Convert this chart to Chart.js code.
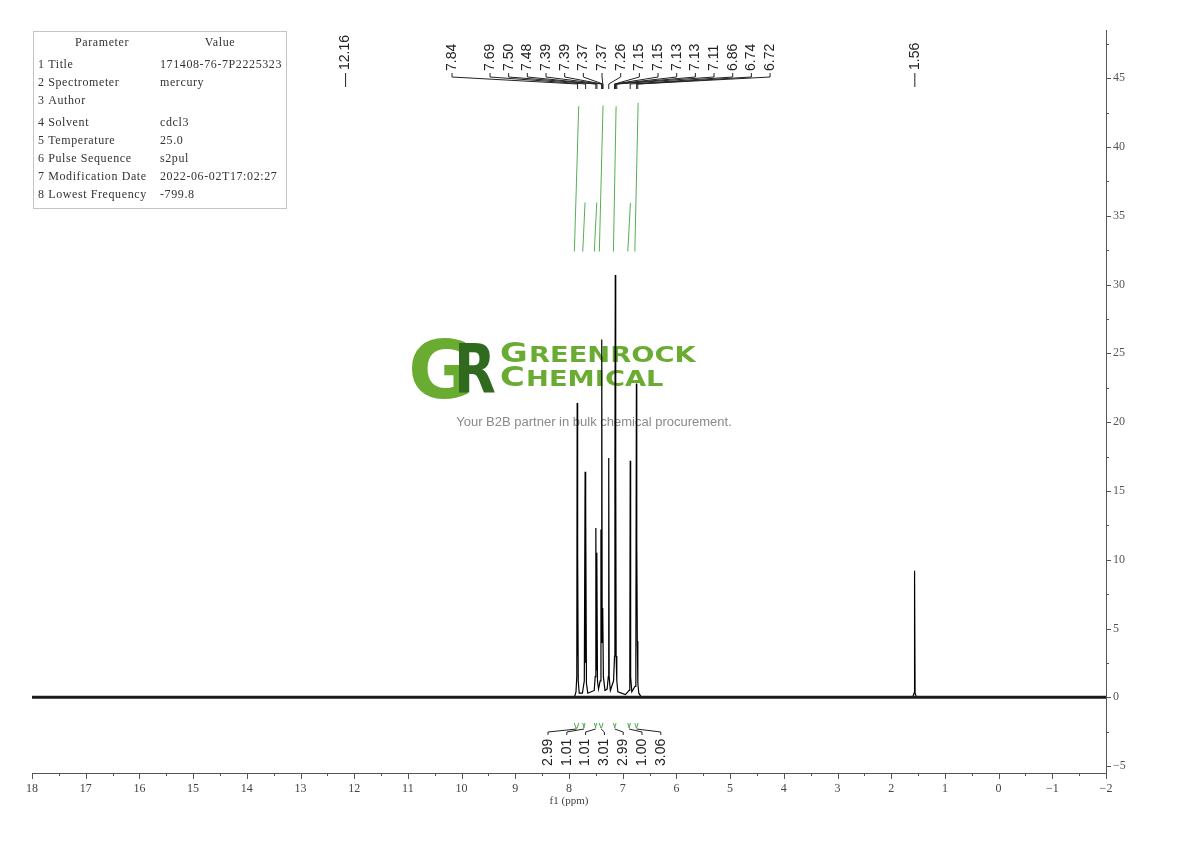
<!DOCTYPE html>
<html>
<head>
<meta charset="utf-8">
<script src="https://cdn.jsdelivr.net/npm/chart.js@4.4.1/dist/chart.umd.min.js"></script>
<style>
  html, body { margin: 0; padding: 0; background: #fff; }
  #wrap { position: relative; width: 1190px; height: 841px; }
</style>
</head>
<body>
<div id="wrap"><canvas id="nmr" width="1190" height="841"></canvas></div>
<script>
// spectrum trace (ppm / intensity)
const specPpm = [18, 7.90, 7.87, 7.855, 7.848, 7.842, 7.836, 7.828, 7.81, 7.75,
  7.715, 7.70, 7.693, 7.686, 7.675, 7.65, 7.53, 7.512, 7.50, 7.492,
  7.482, 7.47, 7.45, 7.42, 7.405, 7.397, 7.39, 7.382, 7.372, 7.36,
  7.33, 7.29, 7.268, 7.26, 7.252, 7.23, 7.17, 7.152, 7.145, 7.138,
  7.13, 7.122, 7.11, 7.09, 6.95, 6.88, 6.868, 6.86, 6.852, 6.83,
  6.77, 6.755, 6.745, 6.738, 6.728, 6.718, 6.70, 6.65,
  1.60, 1.575, 1.565, 1.555, 1.53, -2];
const specInt = [0, 0, 0.4, 1.5, 21.4, 3.0, 10.6, 1.2, 0.3, 0.3,
  1.2, 16.4, 2.5, 13.9, 1.0, 0.3, 0.5, 1.5, 12.3, 2.0,
  10.5, 1.2, 0.6, 1.2, 12.2, 4.0, 26.0, 4.0, 6.5, 1.5,
  0.5, 0.6, 1.5, 17.4, 1.5, 0.5, 1.2, 3.0, 16.9, 30.7,
  16.9, 3.0, 1.2, 0.4, 0.2, 0.5, 1.5, 17.2, 1.5, 0.4,
  0.8, 2.5, 22.8, 11.2, 4.1, 1.0, 0.3, 0,
  0, 0.3, 9.2, 0.3, 0, 0];

// peak picking
const peakShifts = [7.84, 7.69, 7.50, 7.48, 7.39, 7.39, 7.37, 7.37, 7.26,
  7.15, 7.15, 7.13, 7.13, 7.11, 6.86, 6.74, 6.72];
const singleShifts = [12.16, 1.56];

// integration
const intFrom = [7.90, 7.744, 7.528, 7.435, 7.173, 6.905, 6.774];
const intTo = [7.819, 7.701, 7.483, 7.366, 7.123, 6.856, 6.713];
const intValues = [2.99, 1.01, 1.01, 3.01, 2.99, 1.00, 3.06];

// parameter table
const paramNames = ['1 Title', '2 Spectrometer', '3 Author', '4 Solvent', '5 Temperature',
  '6 Pulse Sequence', '7 Modification Date', '8 Lowest Frequency'];
const paramValues = ['171408-76-7P2225323', 'mercury', '', 'cdcl3', '25.0',
  's2pul', '2022-06-02T17:02:27', '-799.8'];

const intBase = 32.4;
const intScale = 3.53;
const serif = '"Liberation Serif", "DejaVu Serif", serif';
const sans = '"Liberation Sans", Arial, sans-serif';

function fmt(v) {
  return v < 0 ? '\u2212' + Math.abs(v) : String(v);
}

const datasets = [];
datasets.push({
  data: [{x: 18, y: 0}, {x: -2, y: 0}],
  borderColor: '#1a1a1a', borderWidth: 3, showLine: true, pointRadius: 0
});
datasets.push({
  data: specPpm.map((x, i) => ({x: x, y: specInt[i]})),
  borderColor: '#000', borderWidth: 1.2, showLine: true, pointRadius: 0
});
intValues.forEach((v, i) => {
  datasets.push({
    data: [{x: intFrom[i], y: intBase}, {x: intTo[i], y: intBase + v * intScale}],
    borderColor: '#56ae56', borderWidth: 1, showLine: true, pointRadius: 0
  });
});

const decor = {
  id: 'decor',
  beforeDatasetsDraw(chart) {
    const c = chart.ctx;
    c.save();
    // watermark logo
    c.textBaseline = 'alphabetic';
    c.textAlign = 'left';
    c.fillStyle = '#6aab32';
    c.font = 'bold 80px "DejaVu Sans"';
    c.fillText('G', 408, 398);
    c.save();
    c.translate(454, 393);
    c.scale(0.8, 1);
    c.fillStyle = '#2f6a1f';
    c.font = 'bold 68px "DejaVu Sans"';
    c.fillText('R', 0, 0);
    c.restore();

    c.fillStyle = '#6aab32';
    [['G', 'REENROCK', 362], ['C', 'HEMICAL', 386]].forEach(w => {
      c.save();
      c.translate(500, w[2]);
      c.scale(1.3, 1);
      c.font = 'bold 26px "DejaVu Sans"';
      c.fillText(w[0], 0, 0);
      const a = c.measureText(w[0]).width;
      c.font = 'bold 21px "DejaVu Sans"';
      c.fillText(w[1], a + 1, 0);
      c.restore();
    });
    c.fillStyle = '#8a8a8a';
    c.font = '13px ' + sans;
    c.textAlign = 'center';
    c.fillText('Your B2B partner in bulk chemical procurement.', 594, 426);
    c.restore();
  },
  afterDraw(chart) {
    const c = chart.ctx;
    const xs = chart.scales.x, ys = chart.scales.y;
    const area = chart.chartArea;
    c.save();

    // minor / major ticks
    c.strokeStyle = '#555';
    c.lineWidth = 1;
    c.beginPath();
    for (let v = -2; v <= 18; v += 0.5) {
      const px = Math.round(xs.getPixelForValue(v)) + 0.5;
      const len = Number.isInteger(v) ? 6 : 3;
      c.moveTo(px, area.bottom);
      c.lineTo(px, area.bottom + len);
    }
    for (let v = -5; v <= 47.5; v += 2.5) {
      const py = Math.round(ys.getPixelForValue(v)) + 0.5;
      const len = v % 5 === 0 ? 5 : 3;
      c.moveTo(area.right, py);
      c.lineTo(area.right + len, py);
    }
    c.stroke();

    // parameter table
    c.strokeStyle = '#c4c4c4';
    c.strokeRect(33.5, 31.5, 253, 177);
    c.fillStyle = '#333';
    c.font = '12px ' + serif;
    c.letterSpacing = '0.6px';
    c.textBaseline = 'middle';
    c.textAlign = 'center';
    c.fillText('Parameter', 102, 43);
    c.fillText('Value', 220, 43);
    c.textAlign = 'left';
    paramNames.forEach((n, i) => {
      const y = 65 + i * 18 + (i >= 3 ? 4 : 0);
      c.fillText(n, 38, y);
      c.fillText(paramValues[i], 160, y);
    });
    c.letterSpacing = '0px';

    // peak labels on top
    c.fillStyle = '#222';
    c.strokeStyle = '#222';
    c.font = '14px ' + sans;
    c.textBaseline = 'middle';
    c.textAlign = 'left';
    peakShifts.forEach((p, i) => {
      const lx = i === 0 ? 452 : 490 + (i - 1) * 18.67;
      const px = xs.getPixelForValue(p);
      c.save();
      c.translate(lx, 71);
      c.rotate(-Math.PI / 2);
      c.fillText(p.toFixed(2), 0, 0);
      c.restore();
      c.beginPath();
      c.moveTo(lx, 73);
      c.lineTo(lx, 77);
      c.lineTo(px, 84);
      c.lineTo(px, 89);
      c.stroke();
    });
    singleShifts.forEach(p => {
      const px = xs.getPixelForValue(p);
      c.save();
      c.translate(px, 70);
      c.rotate(-Math.PI / 2);
      c.fillText(p.toFixed(2), 0, 0);
      c.restore();
      c.beginPath();
      c.moveTo(px, 73);
      c.lineTo(px, 87);
      c.stroke();
    });

    // integration brackets and values at the bottom
    intValues.forEach((v, i) => {
      const a = xs.getPixelForValue(intFrom[i]);
      const b = xs.getPixelForValue(intTo[i]);
      const lx = 548 + i * 18.8;
      c.strokeStyle = '#4caa4c';
      c.beginPath();
      c.moveTo(a, 723);
      c.lineTo(a + 1.5, 728);
      c.lineTo(b - 1.5, 728);
      c.lineTo(b, 723);
      c.stroke();
      c.strokeStyle = '#222';
      c.beginPath();
      c.moveTo(lx, 735);
      c.lineTo(lx, 732);
      c.lineTo((a + b) / 2, 729);
      c.stroke();
      c.save();
      c.translate(lx, 766);
      c.rotate(-Math.PI / 2);
      c.fillStyle = '#222';
      c.fillText(v.toFixed(2), 0, 0);
      c.restore();
    });
    c.restore();
  }
};

new Chart(document.getElementById('nmr'), {
  type: 'scatter',
  data: { datasets: datasets },
  options: {
    responsive: false,
    animation: false,
    events: [],
    layout: { padding: { left: 32, top: 30, right: 0, bottom: 29 } },
    plugins: { legend: { display: false }, tooltip: { enabled: false } },
    scales: {
      x: {
        type: 'linear',
        min: -2,
        max: 18,
        reverse: true,
        afterFit: s => { s.height = 39; },
        grid: { display: false, drawTicks: false },
        border: { display: true, color: '#555', width: 1 },
        ticks: {
          stepSize: 1,
          autoSkip: false,
          maxRotation: 0,
          padding: 9,
          color: '#444',
          font: { family: serif, size: 12 },
          callback: v => fmt(v)
        },
        title: {
          display: true,
          text: 'f1 (ppm)',
          color: '#444',
          font: { family: serif, size: 11 },
          padding: { top: 1, bottom: 4 }
        }
      },
      y: {
        type: 'linear',
        position: 'right',
        min: -5.5,
        max: 48.5,
        afterFit: s => { s.width = 84; },
        grid: { display: false, drawTicks: false },
        border: { display: true, color: '#555', width: 1 },
        ticks: {
          stepSize: 5,
          includeBounds: false,
          padding: 7,
          color: '#555',
          font: { family: serif, size: 12 },
          callback: v => (v % 5 === 0 ? fmt(v) : '')
        }
      }
    }
  },
  plugins: [decor]
});
</script>
</body>
</html>
